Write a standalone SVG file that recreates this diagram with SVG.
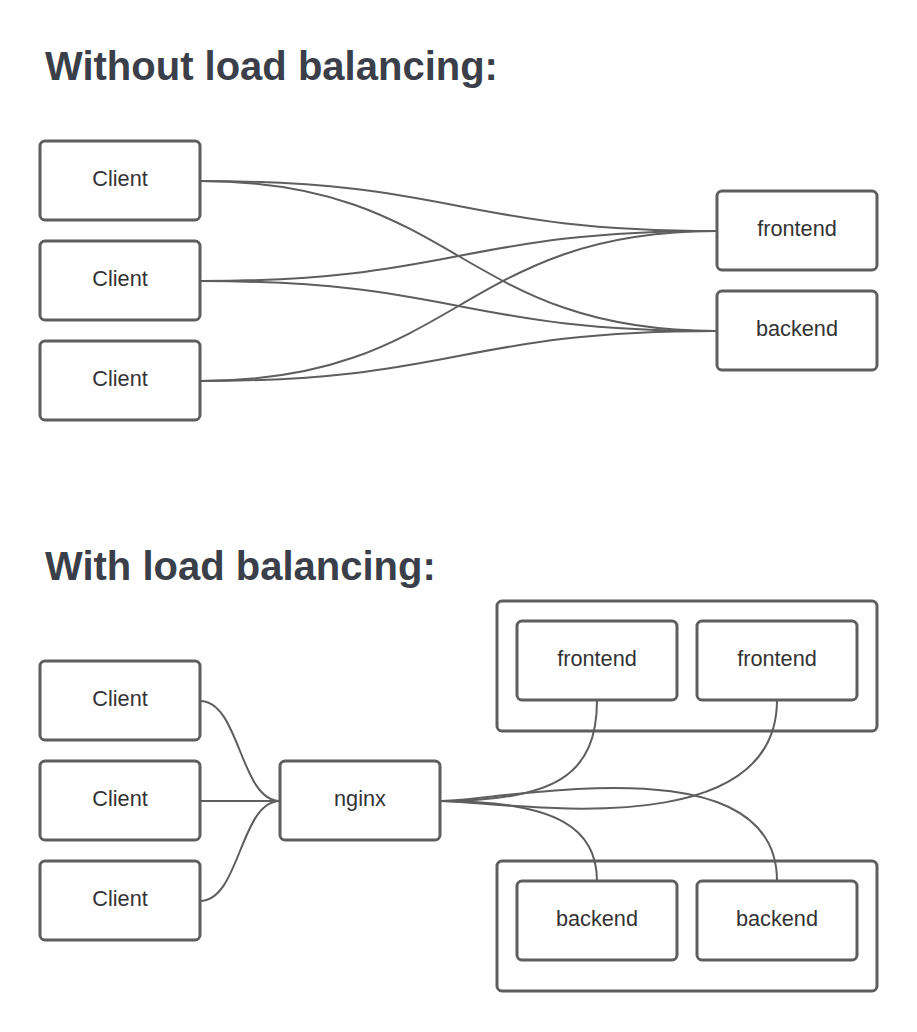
<svg xmlns="http://www.w3.org/2000/svg" width="917" height="1032" viewBox="0 0 917 1032">
<style>
.box{fill:#ffffff;stroke:#5e5e5e;stroke-width:3}
.lbl{font-family:"Liberation Sans",Arial,sans-serif;font-size:21.7px;fill:#333333;text-anchor:middle}
.title{font-family:"Liberation Sans",Arial,sans-serif;font-size:40px;font-weight:bold;fill:#3a3f4a}
.conn path{fill:none;stroke:#5e5e5e;stroke-width:2}
</style>
<rect width="917" height="1032" fill="#ffffff"/>
<text class="title" x="45" y="80">Without load balancing:</text>
<text class="title" x="45" y="580">With load balancing:</text>

<g id="connectors" class="conn">
<path d="M200,181 C458.5,181 458.5,231 717,231"/>
<path d="M200,181 C458.5,181 458.5,331 717,331"/>
<path d="M200,281 C458.5,281 458.5,231 717,231"/>
<path d="M200,281 C458.5,281 458.5,331 717,331"/>
<path d="M200,381 C458.5,381 458.5,231 717,231"/>
<path d="M200,381 C458.5,381 458.5,331 717,331"/>
<path d="M200,701 C240,701 240,801 280,801"/>
<path d="M200,801 L280,801"/>
<path d="M200,901 C240,901 240,801 280,801"/>
<path d="M440,801 C555,801 597,775 597,700"/>
<path d="M440,801 C500,801 777,850 777,700"/>
<path d="M440,801 C560,801 597,830 597,881"/>
<path d="M440,801 C500,801 777,740 777,881"/>
</g>

<g id="client1"><rect class="box" x="40" y="141" width="160" height="79" rx="5"/><text class="lbl" x="120" y="186">Client</text></g>
<g id="client2"><rect class="box" x="40" y="241" width="160" height="79" rx="5"/><text class="lbl" x="120" y="286">Client</text></g>
<g id="client3"><rect class="box" x="40" y="341" width="160" height="79" rx="5"/><text class="lbl" x="120" y="386">Client</text></g>
<g id="frontend-a"><rect class="box" x="717" y="191" width="160" height="79" rx="5"/><text class="lbl" x="797" y="236">frontend</text></g>
<g id="backend-a"><rect class="box" x="717" y="291" width="160" height="79" rx="5"/><text class="lbl" x="797" y="336">backend</text></g>

<g id="client4"><rect class="box" x="40" y="661" width="160" height="79" rx="5"/><text class="lbl" x="120" y="706">Client</text></g>
<g id="client5"><rect class="box" x="40" y="761" width="160" height="79" rx="5"/><text class="lbl" x="120" y="806">Client</text></g>
<g id="client6"><rect class="box" x="40" y="861" width="160" height="79" rx="5"/><text class="lbl" x="120" y="906">Client</text></g>
<g id="nginx"><rect class="box" x="280" y="761" width="160" height="79" rx="5"/><text class="lbl" x="360" y="806">nginx</text></g>

<g id="frontend-group"><rect class="box" x="497" y="601" width="380" height="130" rx="5" fill="none" style="fill:none"/></g>
<g id="frontend1"><rect class="box" x="517" y="621" width="160" height="79" rx="5"/><text class="lbl" x="597" y="666">frontend</text></g>
<g id="frontend2"><rect class="box" x="697" y="621" width="160" height="79" rx="5"/><text class="lbl" x="777" y="666">frontend</text></g>

<g id="backend-group"><rect class="box" x="497" y="861" width="380" height="130" rx="5" style="fill:none"/></g>
<g id="backend1"><rect class="box" x="517" y="881" width="160" height="79" rx="5"/><text class="lbl" x="597" y="926">backend</text></g>
<g id="backend2"><rect class="box" x="697" y="881" width="160" height="79" rx="5"/><text class="lbl" x="777" y="926">backend</text></g>
</svg>
